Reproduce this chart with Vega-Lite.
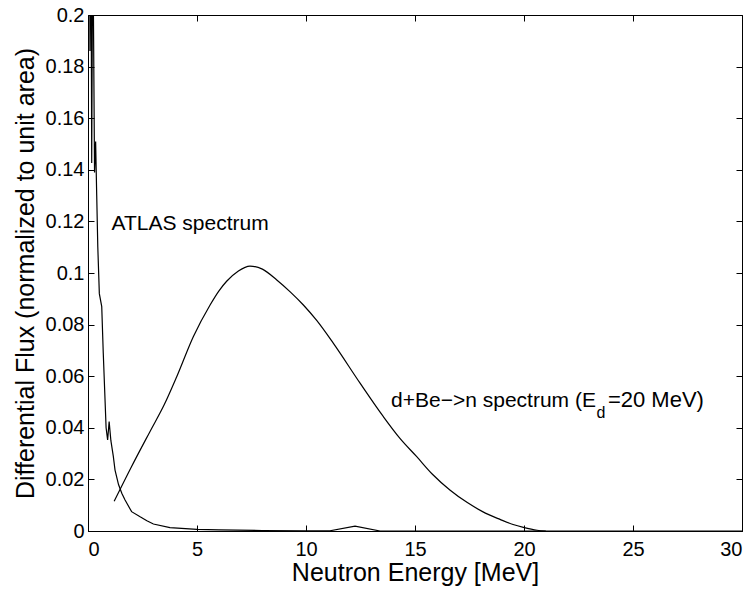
{
  "$schema": "https://vega.github.io/schema/vega-lite/v6.json",
  "width": 654,
  "height": 516,
  "autosize": {"type": "none"},
  "padding": {"left": 88, "top": 15, "right": 13, "bottom": 60},
  "background": "white",
  "config": {
    "view": {"stroke": "black", "strokeWidth": 1},
    "font": "Liberation Sans",
    "axis": {
      "domainColor": "black", "tickColor": "black", "labelColor": "black", "titleColor": "black",
      "labelFont": "Liberation Sans", "titleFont": "Liberation Sans",
      "labelFontSize": 20, "titleFontSize": 25, "titleFontWeight": "normal",
      "grid": false, "tickSize": -6, "domainWidth": 1, "tickWidth": 1
    }
  },
  "datasets": {
    "atlas": [
      {"E": 0.0, "flux": 0.25},
      {"E": 0.05, "flux": 0.3},
      {"E": 0.09, "flux": 0.186},
      {"E": 0.13, "flux": 0.25},
      {"E": 0.17, "flux": 0.1426},
      {"E": 0.21, "flux": 0.22},
      {"E": 0.25, "flux": 0.2},
      {"E": 0.3, "flux": 0.139},
      {"E": 0.35, "flux": 0.151},
      {"E": 0.4, "flux": 0.13},
      {"E": 0.45, "flux": 0.11},
      {"E": 0.52, "flux": 0.092},
      {"E": 0.63, "flux": 0.087},
      {"E": 0.7, "flux": 0.069},
      {"E": 0.83, "flux": 0.04},
      {"E": 0.9, "flux": 0.0353},
      {"E": 0.97, "flux": 0.0424},
      {"E": 1.05, "flux": 0.035},
      {"E": 1.16, "flux": 0.029},
      {"E": 1.24, "flux": 0.0236},
      {"E": 1.4, "flux": 0.018},
      {"E": 1.55, "flux": 0.0146},
      {"E": 1.7, "flux": 0.012},
      {"E": 2.0, "flux": 0.0075},
      {"E": 2.39, "flux": 0.0055},
      {"E": 2.7, "flux": 0.004},
      {"E": 3.0, "flux": 0.0027},
      {"E": 3.76, "flux": 0.0013},
      {"E": 5.0, "flux": 0.0006},
      {"E": 6.0, "flux": 0.0004},
      {"E": 8.0, "flux": 0.0002},
      {"E": 10.0, "flux": 0.0001},
      {"E": 11.1, "flux": 0.0001},
      {"E": 12.25, "flux": 0.0019},
      {"E": 13.4, "flux": 0.0},
      {"E": 20.0, "flux": 0.0},
      {"E": 30.0, "flux": 0.0}
    ],
    "dbe": [
      {"E": 1.2, "flux": 0.0115},
      {"E": 2.0, "flux": 0.025},
      {"E": 2.84, "flux": 0.0385},
      {"E": 3.5, "flux": 0.049},
      {"E": 4.07, "flux": 0.0598},
      {"E": 4.83, "flux": 0.0753},
      {"E": 5.6, "flux": 0.0876},
      {"E": 6.0, "flux": 0.093},
      {"E": 6.36, "flux": 0.0968},
      {"E": 6.9, "flux": 0.1008},
      {"E": 7.43, "flux": 0.1027},
      {"E": 8.0, "flux": 0.1015},
      {"E": 8.66, "flux": 0.0973},
      {"E": 9.3, "flux": 0.0925},
      {"E": 9.88, "flux": 0.0876},
      {"E": 10.5, "flux": 0.0815},
      {"E": 11.25, "flux": 0.0728},
      {"E": 12.48, "flux": 0.0573},
      {"E": 13.55, "flux": 0.0443},
      {"E": 14.3, "flux": 0.036},
      {"E": 15.08, "flux": 0.0288},
      {"E": 15.8, "flux": 0.022},
      {"E": 16.6, "flux": 0.0159},
      {"E": 17.4, "flux": 0.011},
      {"E": 18.1, "flux": 0.0075},
      {"E": 18.9, "flux": 0.0045},
      {"E": 19.5, "flux": 0.0025},
      {"E": 19.97, "flux": 0.0014},
      {"E": 20.6, "flux": 0.0003},
      {"E": 21.0, "flux": 0.0}
    ]
  },
  "resolve": {"axis": {"x": "independent", "y": "independent"}},
  "layer": [
    {
      "data": {"name": "atlas"},
      "mark": {"type": "line", "color": "black", "strokeWidth": 1.2, "clip": true},
      "encoding": {
        "x": {"field": "E", "type": "quantitative",
              "scale": {"domain": [0, 30], "nice": false, "zero": false},
              "axis": {"values": [0, 5, 10, 15, 20, 25, 30], "title": "Neutron Energy [MeV]",
                       "labelPadding": 14, "titleY": 49, "titleBaseline": "alphabetic", "orient": "bottom"}},
        "y": {"field": "flux", "type": "quantitative",
              "scale": {"domain": [0, 0.2], "nice": false, "zero": false},
              "axis": {"values": [0, 0.02, 0.04, 0.06, 0.08, 0.1, 0.12, 0.14, 0.16, 0.18, 0.2], "format": "~g",
                       "title": "Differential Flux (normalized to unit area)",
                       "labelPadding": 10, "titleX": -63, "titleY": 258, "titleBaseline": "middle", "titleAlign": "center", "orient": "left"}}
      }
    },
    {
      "data": {"name": "dbe"},
      "mark": {"type": "line", "color": "black", "strokeWidth": 1.2, "clip": true, "interpolate": "monotone"},
      "encoding": {
        "x": {"field": "E", "type": "quantitative", "axis": null},
        "y": {"field": "flux", "type": "quantitative", "axis": null}
      }
    },
    {
      "data": {"values": [{"label": "ATLAS spectrum", "E": 1.08, "flux": 0.1167}]},
      "mark": {"type": "text", "align": "left", "baseline": "alphabetic", "fontSize": 21, "font": "Liberation Sans", "color": "black"},
      "encoding": {
        "text": {"field": "label"},
        "x": {"field": "E", "type": "quantitative", "axis": {"orient": "top", "labels": false, "title": null, "values": [0, 5, 10, 15, 20, 25, 30], "domain": false}},
        "y": {"field": "flux", "type": "quantitative", "axis": {"orient": "right", "labels": false, "title": null, "values": [0, 0.02, 0.04, 0.06, 0.08, 0.1, 0.12, 0.14, 0.16, 0.18, 0.2], "domain": false}}
      }
    },
    {
      "data": {"values": [{"label": "d+Be−>n spectrum (E", "E": 23.3, "flux": 0.0482}]},
      "mark": {"type": "text", "align": "right", "baseline": "alphabetic", "fontSize": 21, "font": "Liberation Sans", "color": "black"},
      "encoding": {
        "text": {"field": "label"},
        "x": {"field": "E", "type": "quantitative", "axis": null},
        "y": {"field": "flux", "type": "quantitative", "axis": null}
      }
    },
    {
      "data": {"values": [{"label": "d", "E": 23.33, "flux": 0.0438}]},
      "mark": {"type": "text", "align": "left", "baseline": "alphabetic", "fontSize": 16, "font": "Liberation Sans", "color": "black"},
      "encoding": {
        "text": {"field": "label"},
        "x": {"field": "E", "type": "quantitative", "axis": null},
        "y": {"field": "flux", "type": "quantitative", "axis": null}
      }
    },
    {
      "data": {"values": [{"label": "=20 MeV)", "E": 23.85, "flux": 0.0482}]},
      "mark": {"type": "text", "align": "left", "baseline": "alphabetic", "fontSize": 22, "font": "Liberation Sans", "color": "black"},
      "encoding": {
        "text": {"field": "label"},
        "x": {"field": "E", "type": "quantitative", "axis": null},
        "y": {"field": "flux", "type": "quantitative", "axis": null}
      }
    }
  ]
}
